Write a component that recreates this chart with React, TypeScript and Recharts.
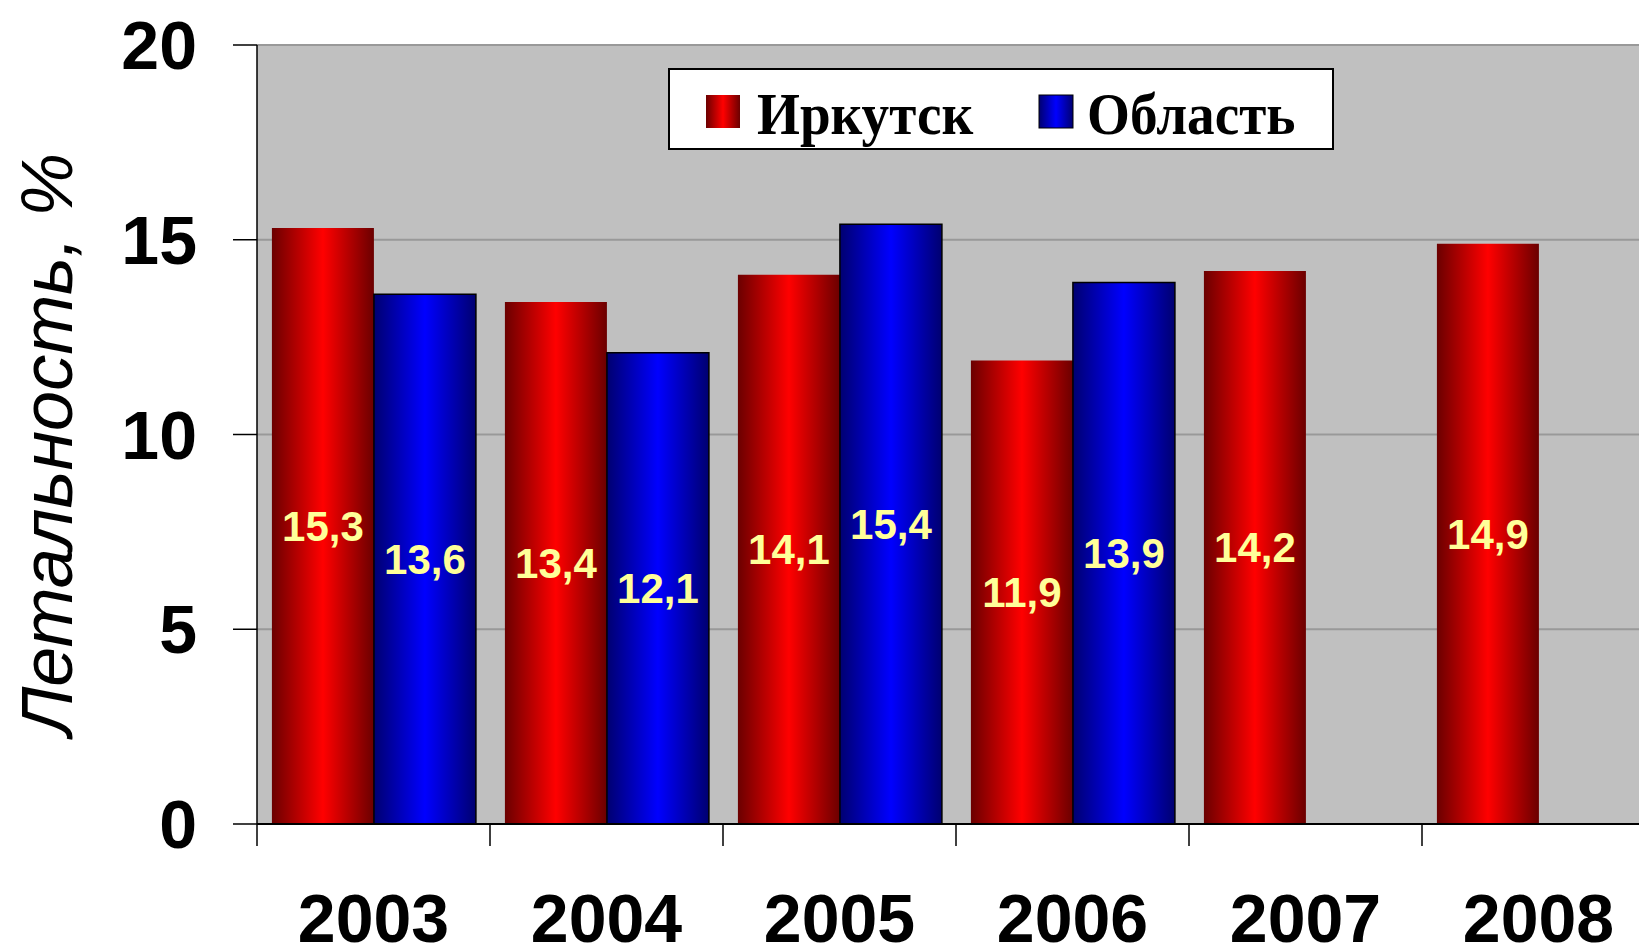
import React from 'react';
import { BarChart, Bar, XAxis, YAxis, CartesianGrid, LabelList, Legend } from 'recharts';

const years = ['2003', '2004', '2005', '2006', '2007', '2008'];
const irkutsk = [15.3, 13.4, 14.1, 11.9, 14.2, 14.9];
const oblast: (number | null)[] = [13.6, 12.1, 15.4, 13.9, null, null];
const yTicks = [0, 5, 10, 15, 20];
const seriesNames = { irkutsk: 'Иркутск', oblast: 'Область' };
const yLabel = 'Летальность, %';

const data = years.map((y, i) => ({ year: y, irkutsk: irkutsk[i], oblast: oblast[i] }));

const SANS = "'Liberation Sans', Arial, sans-serif";
const SERIF = "'Liberation Serif', 'Times New Roman', serif";

const fmt = (v: any) => (v === null || v === undefined ? '' : String(v).replace('.', ','));

const XTick = (props: any) => {
  const { x, y, payload } = props;
  const off = payload && typeof payload.offset === 'number' ? payload.offset : 0;
  return (
    <g>
      <line x1={x - off} y1={y - 22} x2={x - off} y2={y} stroke="#000" strokeWidth={1.5} />
      <text
        x={x}
        y={y + 72}
        dy="0.355em"
        textAnchor="middle"
        fill="#000"
        style={{ fontFamily: SANS, fontWeight: 'bold', fontSize: 68 }}
      >
        {payload.value}
      </text>
    </g>
  );
};

const renderLegend = (props: any) => {
  const payload = props.payload || [];
  const swatchX = [38, 371];
  const textX = [89, 419];
  return (
    <svg width={666} height={82} style={{ display: 'block' }}>
      <defs>
        <linearGradient id="legRed" x1="0" y1="0" x2="1" y2="0">
          <stop offset="0%" stopColor="#6b0000" />
          <stop offset="50%" stopColor="#ff0000" />
          <stop offset="100%" stopColor="#6b0000" />
        </linearGradient>
        <linearGradient id="legBlue" x1="0" y1="0" x2="1" y2="0">
          <stop offset="0%" stopColor="#000070" />
          <stop offset="50%" stopColor="#0000ff" />
          <stop offset="100%" stopColor="#000070" />
        </linearGradient>
      </defs>
      <rect x={1} y={1} width={664} height={80} fill="#fff" stroke="#000" strokeWidth={2} />
      {payload.map((entry: any, i: number) => {
        const isRed = entry.dataKey === 'irkutsk';
        return (
          <g key={i}>
            <rect
              x={swatchX[i]}
              y={27}
              width={34}
              height={33}
              fill={isRed ? 'url(#legRed)' : 'url(#legBlue)'}
              stroke={isRed ? 'none' : '#000'}
              strokeWidth={1}
            />
            <text
              x={0}
              y={0}
              transform={`translate(${textX[i]}, 66) scale(0.92, 1)`}
              fill="#000"
              style={{ fontFamily: SERIF, fontWeight: 'bold', fontSize: 60 }}
            >
              {entry.value}
            </text>
          </g>
        );
      })}
    </svg>
  );
};

const YLabel = (props: any) => {
  const vb = props.viewBox || { x: 0, y: 45, width: 257, height: 779 };
  const cx = vb.x + 72;
  const cy = vb.y + vb.height / 2 + 10;
  return (
    <text
      x={cx}
      y={cy}
      textAnchor="middle"
      transform={`rotate(-90, ${cx}, ${cy})`}
      fill="#000"
      style={{ fontFamily: SANS, fontStyle: 'italic', fontSize: 72 }}
    >
      {yLabel}
    </text>
  );
};

export default function App() {
  return (
    <div
      style={{
        position: 'absolute',
        left: 0,
        top: 0,
        width: 1639,
        height: 951,
        overflow: 'hidden',
        background: '#fff',
      }}
    >
      <BarChart
        width={1655}
        height={951}
        data={data}
        margin={{ top: 45, right: 0, left: 0, bottom: 0 }}
        barCategoryGap="6.4%"
        barGap={0}
      >
        <defs>
          <linearGradient id="redGrad" x1="0" y1="0" x2="1" y2="0">
            <stop offset="0%" stopColor="#6b0000" />
            <stop offset="50%" stopColor="#ff0000" />
            <stop offset="100%" stopColor="#6b0000" />
          </linearGradient>
          <linearGradient id="blueGrad" x1="0" y1="0" x2="1" y2="0">
            <stop offset="0%" stopColor="#000070" />
            <stop offset="50%" stopColor="#0000ff" />
            <stop offset="100%" stopColor="#000070" />
          </linearGradient>
        </defs>
        <CartesianGrid
          vertical={false}
          horizontal={true}
          stroke="#999999"
          strokeWidth={2}
          fill="#C0C0C0"
          fillOpacity={1}
        />
        <XAxis
          dataKey="year"
          type="category"
          height={127}
          tickSize={22}
          tickMargin={0}
          tickLine={false}
          axisLine={{ stroke: '#000', strokeWidth: 2 }}
          tick={<XTick />}
          interval={0}
        />
        <YAxis
          type="number"
          domain={[0, 20]}
          ticks={yTicks}
          width={257}
          tickSize={24}
          tickMargin={36}
          axisLine={{ stroke: '#000', strokeWidth: 1.5 }}
          tickLine={{ stroke: '#000', strokeWidth: 1.5 }}
          tick={{ fill: '#000', fontSize: 68, fontWeight: 'bold', fontFamily: SANS }}
          label={<YLabel />}
        />
        <Legend
          layout="horizontal"
          verticalAlign="middle"
          align="center"
          content={renderLegend}
          wrapperStyle={{ left: 668, top: 68, width: 666, height: 82 }}
        />
        <Bar dataKey="irkutsk" name={seriesNames.irkutsk} fill="url(#redGrad)" isAnimationActive={false}>
          <LabelList
            dataKey="irkutsk"
            position="center"
            formatter={fmt}
            fill="#FFFF99"
            style={{ fontFamily: SANS, fontWeight: 'bold', fontSize: 42 }}
          />
        </Bar>
        <Bar
          dataKey="oblast"
          name={seriesNames.oblast}
          fill="url(#blueGrad)"
          stroke="#000"
          strokeWidth={1.5}
          isAnimationActive={false}
        >
          <LabelList
            dataKey="oblast"
            position="center"
            formatter={fmt}
            fill="#FFFF99"
            style={{ fontFamily: SANS, fontWeight: 'bold', fontSize: 42 }}
          />
        </Bar>
      </BarChart>
    </div>
  );
}
